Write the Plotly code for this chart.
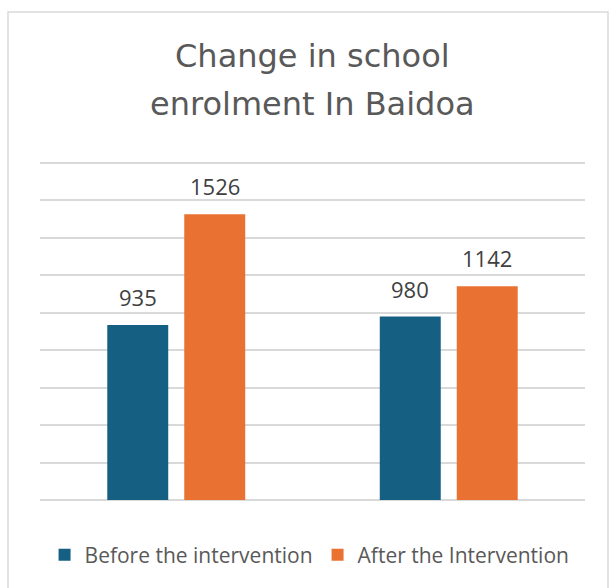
import plotly.graph_objects as go

# Enrolment figures for the two sites
categories = ["Site 1", "Site 2"]
before_intervention = [935, 980]
after_intervention = [1526, 1142]
series_names = ["Before the intervention", "After the Intervention"]
title_lines = ["Change in school", "enrolment In Baidoa"]

BLUE = "#156082"
ORANGE = "#E97132"
FONT = "Open Sans"
TITLE_FONT = "DejaVu Sans"

W, H = 613, 588
M_L, M_R, M_T, M_B = 40, 28, 160, 88
Y_MAX = 1816  # a little headroom so the 1800 gridline is drawn
BARGAP, BARGROUPGAP = 0.435, 0.208

fig = go.Figure()
fig.add_trace(go.Bar(x=categories, y=before_intervention, name=series_names[0],
                     marker=dict(color=BLUE, line_width=0)))
fig.add_trace(go.Bar(x=categories, y=after_intervention, name=series_names[1],
                     marker=dict(color=ORANGE, line_width=0)))

# value labels above each bar, shifted sideways to the bar's slot in its group
plot_w = W - M_L - M_R
slot_px = plot_w / len(categories) * (1 - BARGAP) / 2
annotations = []
for values, shift in ((before_intervention, -slot_px / 2), (after_intervention, slot_px / 2)):
    for cat, v in zip(categories, values):
        annotations.append(dict(x=cat, y=v, xref="x", yref="y", text=str(v),
                                showarrow=False, xshift=shift, yshift=28,
                                yanchor="middle",
                                font=dict(family=FONT, size=22, color="#404040")))

# two-line title
plot_h = H - M_T - M_B
for line, ypx in zip(title_lines, (56, 104)):
    annotations.append(dict(x=0.5, y=(H - M_B - ypx) / plot_h, xref="paper", yref="paper",
                            text=line, showarrow=False, xanchor="center", yanchor="middle",
                            font=dict(family=TITLE_FONT, size=32, color="#595959")))

fig.update_layout(
    width=W, height=H,
    margin=dict(l=M_L, r=M_R, t=M_T, b=M_B, autoexpand=False),
    paper_bgcolor="white", plot_bgcolor="white",
    barmode="group", bargap=BARGAP, bargroupgap=BARGROUPGAP,
    showlegend=True,
    legend=dict(orientation="h", xref="container", x=0.505, xanchor="center",
                yref="container", y=(588 - 555) / H, yanchor="middle",
                font=dict(family=FONT, size=21, color="#595959"),
                itemclick=False, tracegroupgap=0, itemwidth=30),
    annotations=annotations,
    shapes=[dict(type="rect", xref="paper", yref="paper",
                 x0=(8 - M_L) / plot_w, x1=(608 - M_L) / plot_w,
                 y0=(H - M_B - 620) / plot_h, y1=(H - M_B - 12) / plot_h,
                 line=dict(color="#d9d9d9", width=1.5), layer="below")],
    xaxis=dict(showticklabels=False, showgrid=False, zeroline=False, showline=False,
               ticks=""),
    yaxis=dict(range=[0, Y_MAX], tick0=0, dtick=200, showticklabels=False, ticks="",
               showgrid=True, gridcolor="#d9d9d9", gridwidth=1.5,
               zeroline=True, zerolinecolor="#d9d9d9", zerolinewidth=1.5,
               showline=False, fixedrange=True),
)

fig.write_html("out.html")
